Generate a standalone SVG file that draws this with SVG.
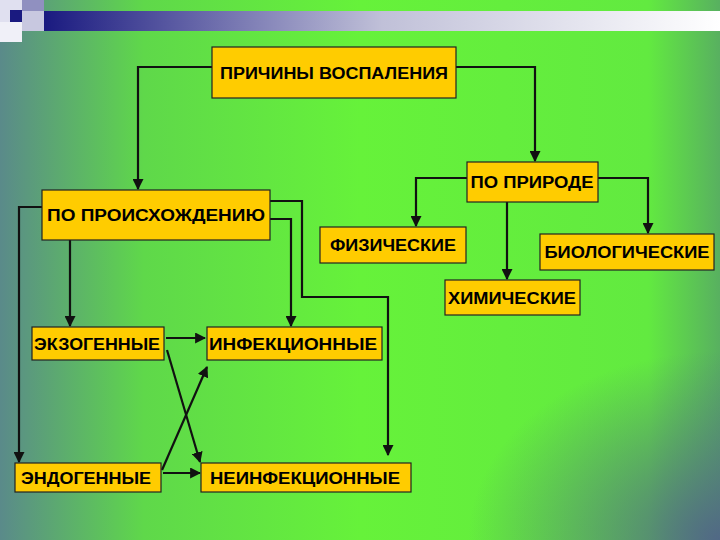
<svg xmlns="http://www.w3.org/2000/svg" width="720" height="540" viewBox="0 0 720 540">
<defs>
<linearGradient id="bg" x1="0" y1="0" x2="1" y2="0">
<stop offset="0" stop-color="#5a8a8a"/>
<stop offset="0.2" stop-color="#5fd84a"/>
<stop offset="0.5" stop-color="#66f23a"/>
<stop offset="0.9" stop-color="#62ea40"/>
<stop offset="1" stop-color="#58b060"/>
</linearGradient>
<radialGradient id="corner" cx="1" cy="1" r="0.35">
<stop offset="0" stop-color="#50608a" stop-opacity="0.9"/>
<stop offset="1" stop-color="#50608a" stop-opacity="0"/>
</radialGradient>
<linearGradient id="bar" x1="0" y1="0" x2="1" y2="0">
<stop offset="0" stop-color="#1a1a80"/>
<stop offset="0.5" stop-color="#c0c0d8"/>
<stop offset="1" stop-color="#ffffff"/>
</linearGradient>
<marker id="ar" viewBox="0 0 10 10" refX="9" refY="5" markerWidth="5" markerHeight="5" orient="auto">
<path d="M0,0 L10,5 L0,10 z" fill="#111"/>
</marker>
<style>
.n rect{fill:#ffcc00;stroke:#222;stroke-width:1.2}
.n text{font-family:"Liberation Sans",Arial,sans-serif;font-weight:bold;font-size:16px;fill:#000;text-anchor:middle}
#conn path{fill:none;stroke:#111;stroke-width:2.2;marker-end:url(#ar)}
</style>
</defs>
<rect width="720" height="540" fill="url(#bg)"/>
<rect width="720" height="540" fill="url(#corner)"/>
<rect x="44" y="11" width="676" height="20" fill="url(#bar)"/>
<rect x="0" y="0" width="22" height="22" fill="#e0e0f0"/>
<rect x="22" y="0" width="22" height="11" fill="#9090c0"/>
<rect x="10" y="10" width="12" height="12" fill="#1a1a80"/>
<rect x="22" y="11" width="22" height="20" fill="#c8c8e0"/>
<rect x="0" y="22" width="22" height="20" fill="#f0f0f8"/>
<g id="conn">
<path d="M212,67 H138 V189"/>
<path d="M456,67 H535 V161"/>
<path d="M467,178 H416 V226"/>
<path d="M598,178 H648 V233"/>
<path d="M507,202 V279"/>
<path d="M42,207 H19 V462"/>
<path d="M70,240 V326"/>
<path d="M270,201 H302 V297 H388 V455"/>
<path d="M270,219 H291 V326"/>
<path d="M166,338 H205"/>
<path d="M163,473 H200"/>
<path d="M167,350 L200,462"/>
<path d="M162,470 L207,367"/>
</g>
<g id="n1" class="n"><rect x="212" y="47" width="244" height="51"/><text x="334" y="79" textLength="228" lengthAdjust="spacingAndGlyphs">ПРИЧИНЫ ВОСПАЛЕНИЯ</text></g>
<g id="n2" class="n"><rect x="467" y="162" width="131" height="40"/><text x="532" y="188" textLength="123" lengthAdjust="spacingAndGlyphs">ПО ПРИРОДЕ</text></g>
<g id="n3" class="n"><rect x="42" y="190" width="228" height="50"/><text x="156" y="221" textLength="218" lengthAdjust="spacingAndGlyphs">ПО ПРОИСХОЖДЕНИЮ</text></g>
<g id="n4" class="n"><rect x="320" y="227" width="146" height="36"/><text x="393" y="251" textLength="126" lengthAdjust="spacingAndGlyphs">ФИЗИЧЕСКИЕ</text></g>
<g id="n5" class="n"><rect x="540" y="234" width="174" height="36"/><text x="627" y="258" textLength="165" lengthAdjust="spacingAndGlyphs">БИОЛОГИЧЕСКИЕ</text></g>
<g id="n6" class="n"><rect x="445" y="280" width="135" height="35"/><text x="512" y="304" textLength="128" lengthAdjust="spacingAndGlyphs">ХИМИЧЕСКИЕ</text></g>
<g id="n7" class="n"><rect x="32" y="327" width="132" height="33"/><text x="97" y="350" textLength="126" lengthAdjust="spacingAndGlyphs">ЭКЗОГЕННЫЕ</text></g>
<g id="n8" class="n"><rect x="207" y="327" width="175" height="33"/><text x="293" y="350" textLength="168" lengthAdjust="spacingAndGlyphs">ИНФЕКЦИОННЫЕ</text></g>
<g id="n9" class="n"><rect x="15" y="463" width="146" height="29"/><text x="86" y="484" textLength="130" lengthAdjust="spacingAndGlyphs">ЭНДОГЕННЫЕ</text></g>
<g id="n10" class="n"><rect x="201" y="463" width="210" height="29"/><text x="305" y="484" textLength="190" lengthAdjust="spacingAndGlyphs">НЕИНФЕКЦИОННЫЕ</text></g>
</svg>
